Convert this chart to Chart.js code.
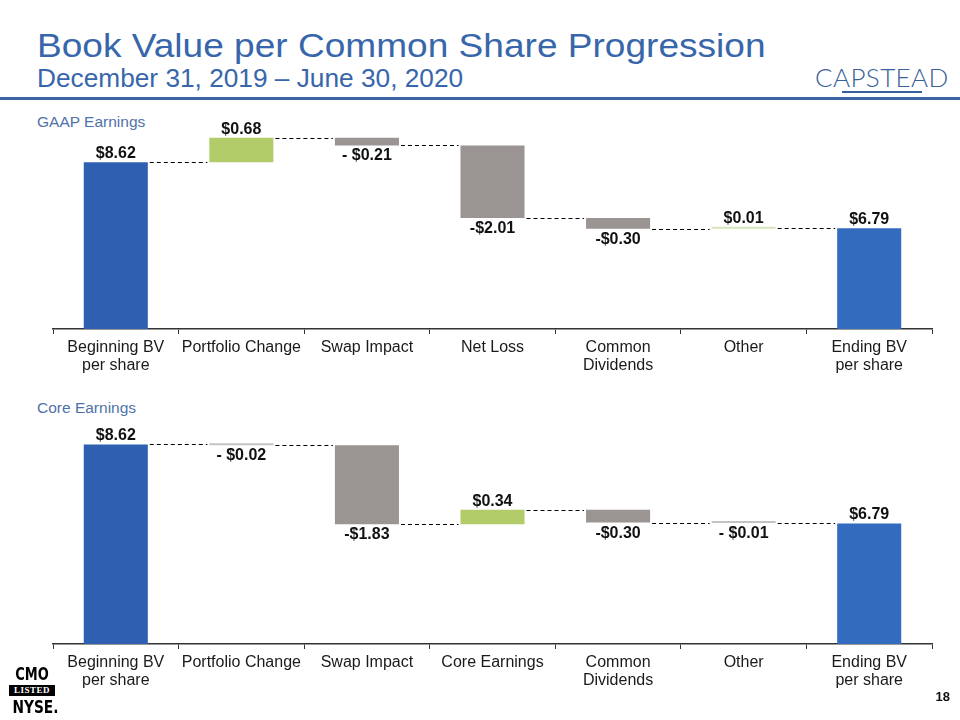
<!DOCTYPE html>
<html>
<head>
<meta charset="utf-8">
<title>Book Value per Common Share Progression</title>
<script src="https://cdn.jsdelivr.net/npm/chart.js"></script>
<style>
  body { margin: 0; width: 960px; height: 720px; position: relative; overflow: hidden; background: #fff;
         font-family: 'Liberation Sans', Arial, sans-serif; }
  .abs { position: absolute; white-space: nowrap; }
  #title { left: 37px; top: 28px; font-size: 34px; line-height: 34px; color: #3866aa;
           transform: scaleX(1.09); transform-origin: left top; }
  #subtitle { left: 37px; top: 66px; font-size: 25px; line-height: 25px; color: #3866aa;
              transform: scaleX(1.05); transform-origin: left top; }
  #rule { left: 0; top: 97px; width: 960px; height: 3px; background: #3b64a3; }
  #logo { left: 815px; top: 64px; font-family: Lato, 'Open Sans', sans-serif; font-weight: 300; font-size: 26px;
          line-height: 26px; color: #3a5f9a; letter-spacing: 0.4px; }
  #logoline { left: 842px; top: 91px; width: 80px; height: 2px; background: #3a5f9a; }
  .section { left: 37px; font-size: 15.5px; line-height: 15.5px; color: #4f72a9; }
  .chartbox { position: absolute; left: 0; width: 960px; }
  #nyse { left: 9px; top: 666px; width: 46px; text-align: center; color: #000; }
  #nyse .big { font: bold 17px/17px 'Liberation Sans Narrow', 'DejaVu Sans Condensed', sans-serif;
               transform: scaleX(0.85); }
  #nyse .listed { background: #000; color: #fff; font: bold 9px/11px 'Liberation Serif', serif; letter-spacing: 0.5px; margin: 2px 0; }
  #page { right: 10px; top: 690px; font-weight: bold; font-size: 13px; line-height: 13px; color: #111; }
</style>
</head>
<body>
  <div id="title" class="abs">Book Value per Common Share Progression</div>
  <div id="subtitle" class="abs">December 31, 2019 – June 30, 2020</div>
  <div id="rule" class="abs"></div>
  <div id="logo" class="abs">CAPSTEAD</div>
  <div id="logoline" class="abs"></div>

  <div class="abs section" style="top:114px">GAAP Earnings</div>
  <div class="chartbox" style="top:110px; height:270px"><canvas id="gaapChart"></canvas></div>

  <div class="abs section" style="top:400px">Core Earnings</div>
  <div class="chartbox" style="top:395px; height:325px"><canvas id="coreChart"></canvas></div>

  <div id="nyse" class="abs">
    <div class="big">CMO</div>
    <div class="listed">LISTED</div>
    <div class="big" style="font-size:18px; line-height:18px">NYSE.</div>
  </div>
  <div id="page" class="abs">18</div>

<script>
  // GAAP earnings waterfall
  const gaapCategories = [['Beginning BV', 'per share'], 'Portfolio Change', 'Swap Impact', 'Net Loss',
    ['Common', 'Dividends'], 'Other', ['Ending BV', 'per share']];
  const gaapStart = 8.62;
  const gaapChanges = [0.68, -0.21, -2.01, -0.30, 0.01];
  const gaapEnd = 6.79;
  const gaapLabels = ['$8.62', '$0.68', '- $0.21', '-$2.01', '-$0.30', '$0.01', '$6.79'];

  // Core earnings waterfall
  const coreCategories = [['Beginning BV', 'per share'], 'Portfolio Change', 'Swap Impact', 'Core Earnings',
    ['Common', 'Dividends'], 'Other', ['Ending BV', 'per share']];
  const coreStart = 8.62;
  const coreChanges = [-0.02, -1.83, 0.34, -0.30, -0.01];
  const coreEnd = 6.79;
  const coreLabels = ['$8.62', '- $0.02', '-$1.83', '$0.34', '-$0.30', '- $0.01', '$6.79'];

  const FONT = "'Liberation Sans', Arial, sans-serif";

  // floating bars: [from, to]
  function waterfall(start, changes, end) {
    const bars = [[0, start]];
    let level = start;
    changes.forEach(c => {
      bars.push([level, level + c]);
      level += c;
    });
    bars.push([0, end]);
    return bars;
  }

  // dashed connectors + value labels
  const waterfallLabels = {
    id: 'waterfallLabels',
    afterDatasetsDraw(chart, args, opts) {
      const ctx = chart.ctx;
      const meta = chart.getDatasetMeta(0);
      const y = chart.scales.y;
      const data = chart.data.datasets[0].data;
      ctx.save();
      ctx.strokeStyle = '#000';
      ctx.lineWidth = 1;
      ctx.setLineDash([4, 3]);
      for (let i = 0; i < meta.data.length - 1; i++) {
        const a = meta.data[i], b = meta.data[i + 1];
        const py = Math.round(y.getPixelForValue(data[i][1])) + 0.5;
        ctx.beginPath();
        ctx.moveTo(a.x + a.width / 2 + 2, py);
        ctx.lineTo(b.x - b.width / 2 - 2, py);
        ctx.stroke();
      }
      ctx.setLineDash([]);
      ctx.font = 'bold 16px ' + FONT;
      ctx.fillStyle = '#111';
      ctx.textAlign = 'center';
      ctx.textBaseline = 'alphabetic';
      meta.data.forEach((bar, i) => {
        const top = Math.min(bar.y, bar.base);
        const bottom = Math.max(bar.y, bar.base);
        const down = data[i][1] < data[i][0];
        ctx.fillText(opts.labels[i], bar.x, down ? bottom + 15 : top - 4);
      });
      ctx.restore();
    }
  };

  function makeChart(id, categories, bars, labels, colors, yMax, padTop, padBottom) {
    return new Chart(document.getElementById(id), {
      type: 'bar',
      data: {
        labels: categories,
        datasets: [{
          data: bars,
          backgroundColor: colors,
          barPercentage: 0.51,
          categoryPercentage: 1,
          minBarLength: 2
        }]
      },
      options: {
        responsive: true,
        maintainAspectRatio: false,
        animation: false,
        layout: { padding: { left: 53, right: 28, top: padTop, bottom: padBottom } },
        plugins: {
          legend: { display: false },
          tooltip: { enabled: false },
          waterfallLabels: { labels: labels }
        },
        scales: {
          x: {
            grid: { drawOnChartArea: false, drawTicks: true, tickLength: 5, color: '#333', lineWidth: 1 },
            border: { display: true, color: '#333', width: 1.5 },
            ticks: {
              color: '#1a1a1a',
              font: { family: FONT, size: 16, lineHeight: 1.125 },
              padding: 5,
              maxRotation: 0,
              autoSkip: false
            },
            afterFit(scale) { scale.height = 51; }
          },
          y: { display: false, min: 4, max: yMax }
        }
      },
      plugins: [waterfallLabels]
    });
  }

  makeChart('gaapChart', gaapCategories, waterfall(gaapStart, gaapChanges, gaapEnd), gaapLabels,
    ['#2e5fb1', '#b3cc6a', '#9a9592', '#9a9592', '#9a9592', '#d6e3bb', '#336bbf'], 9.6, 17, 0);

  makeChart('coreChart', coreCategories, waterfall(coreStart, coreChanges, coreEnd), coreLabels,
    ['#2e5fb1', '#c3c3c3', '#9a9592', '#b3cc6a', '#9a9592', '#c3c3c3', '#336bbf'], 9.0, 33, 25);
</script>
</body>
</html>
